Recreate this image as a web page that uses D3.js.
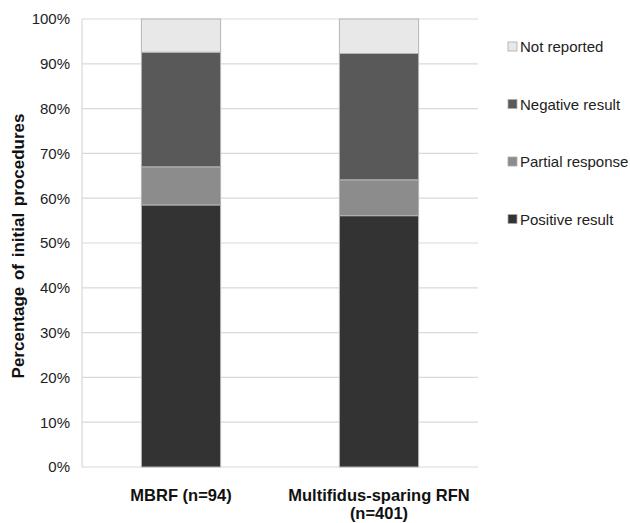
<!DOCTYPE html>
<html><head><meta charset="utf-8">
<script src="https://cdn.jsdelivr.net/npm/d3@7"></script>
<style>body{margin:0;background:#fff;} text{font-family:"Liberation Sans",Arial,sans-serif;}</style>
</head><body>
<svg id="c" width="630" height="523"></svg>
<script>
const categories = ["MBRF (n=94)", "Multifidus-sparing RFN (n=401)"];
const categoryLines = [["MBRF (n=94)"], ["Multifidus-sparing RFN", "(n=401)"]];
const seriesNames = ["Positive result", "Partial response", "Negative result", "Not reported"];
const positive = [58.5, 56.1];
const partial = [8.5, 8.0];
const negative = [25.6, 28.2];
const notReported = [7.4, 7.7];
const yTicks = [0,10,20,30,40,50,60,70,80,90,100];
const colors = ["#333333", "#8c8c8c", "#595959", "#e8e8e8"];

(function(){
const svg = d3.select("#c");
const mLeft = 82, mRight = 478, mTop = 19, mBottom = 467;
const x = d3.scaleBand().domain(categories).range([mLeft, mRight]).paddingInner(0.6).paddingOuter(0.3);
const y = d3.scaleLinear().domain([0,100]).range([mBottom, mTop]);

svg.append("g").selectAll("line").data(yTicks).join("line")
  .attr("x1", mLeft).attr("x2", mRight).attr("y1", d=>y(d)).attr("y2", d=>y(d))
  .attr("stroke", "#d9d9d9").attr("stroke-width", 1.2);
svg.append("line").attr("x1", mLeft).attr("x2", mLeft).attr("y1", mTop).attr("y2", mBottom)
  .attr("stroke", "#d9d9d9").attr("stroke-width", 1.2);

const yAxis = d3.axisLeft(y).tickValues(yTicks).tickFormat(d=>d+"%").tickSize(0).tickPadding(12);
const ga = svg.append("g").attr("transform", `translate(${mLeft},0)`).call(yAxis);
ga.select(".domain").remove();
ga.selectAll("text").attr("font-size", 15).attr("fill", "#222").attr("font-family", '"Liberation Sans",Arial,sans-serif');

const rows = categories.map((c,i)=>({cat:c, "Positive result":positive[i], "Partial response":partial[i], "Negative result":negative[i], "Not reported":notReported[i]}));
const stack = d3.stack().keys(seriesNames)(rows);
svg.append("g").selectAll("g").data(stack).join("g")
  .attr("fill", (d,i)=>colors[i])
  .selectAll("rect").data(d=>d).join("rect")
  .attr("x", d=>x(d.data.cat)).attr("width", x.bandwidth())
  .attr("y", d=>y(d[1])).attr("height", d=>y(d[0])-y(d[1]))
  .attr("stroke", "#b5b5b5").attr("stroke-width", 1);

categories.forEach((c,i)=>{
  const cx = x(c)+x.bandwidth()/2;
  const t = svg.append("text").attr("x", cx).attr("y", 501)
    .attr("text-anchor","middle").attr("font-size", 16.5).attr("font-weight","bold").attr("fill","#111");
  categoryLines[i].forEach((l,j)=>t.append("tspan").attr("x", cx).attr("dy", j?18:0).text(l));
});

svg.append("text").attr("transform", `translate(24,246) rotate(-90)`)
  .attr("text-anchor","middle").attr("font-size", 17).attr("font-weight","bold").attr("fill","#111")
  .attr("word-spacing", 2)
  .text("Percentage of initial procedures");

const legendOrder = ["Not reported", "Negative result", "Partial response", "Positive result"];
const lg = svg.append("g").selectAll("g").data(legendOrder).join("g")
  .attr("transform", (d,i)=>`translate(508,${47+i*57.5})`);
lg.append("rect").attr("x",0).attr("y",-5).attr("width",9).attr("height",9)
  .attr("fill", d=>colors[seriesNames.indexOf(d)]).attr("stroke","#aaa").attr("stroke-width",0.8);
lg.append("text").attr("x",12).attr("y",5).attr("font-size",15).attr("fill","#222").text(d=>d);
})();
</script>
</body></html>
